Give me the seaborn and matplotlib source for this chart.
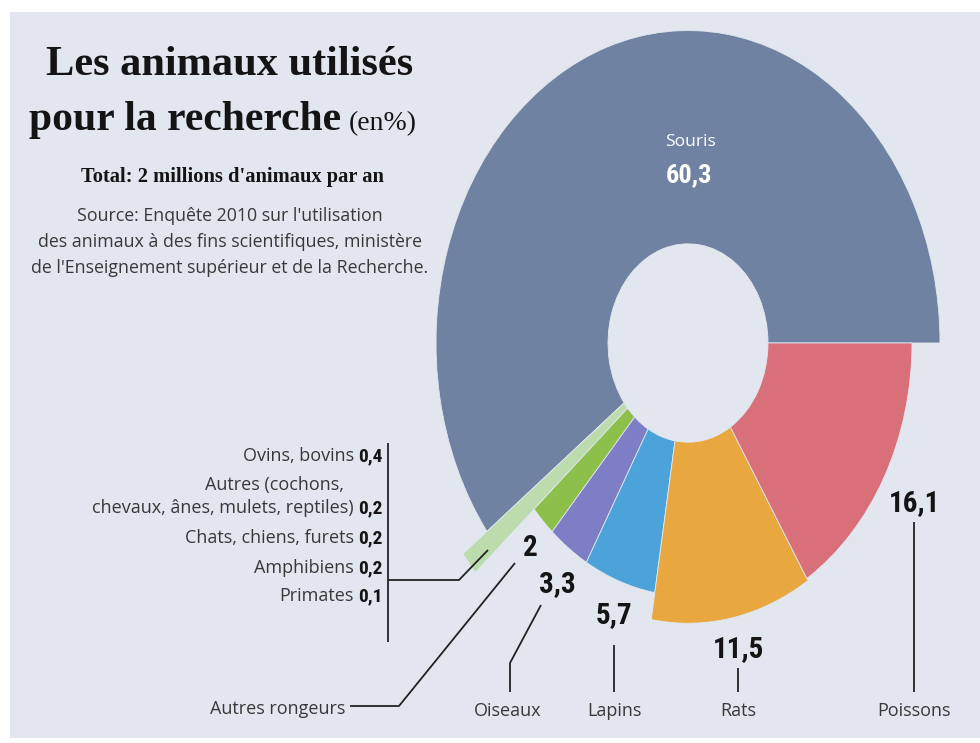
import numpy as np
import pandas as pd
import matplotlib
matplotlib.use("Agg")
import matplotlib.pyplot as plt
import seaborn as sns
from matplotlib.patches import Wedge, Rectangle
from matplotlib import font_manager as fm

# ---------------- data ----------------
categories = ["Souris", "Petits groupes", "Autres rongeurs", "Oiseaux", "Lapins", "Rats", "Poissons"]
values = [60.3, 1.1, 2, 3.3, 5.7, 11.5, 16.1]
small_labels = ["Ovins, bovins", "chevaux, ânes, mulets, reptiles)", "Chats, chiens, furets",
                "Amphibiens", "Primates"]
small_values = [0.4, 0.2, 0.2, 0.2, 0.1]

title_1 = "Les animaux utilisés"
title_2 = "pour la recherche"
title_unit = "(en%)"
subtitle = "Total: 2 millions d'animaux par an"
source_lines = ["Source: Enquête 2010 sur l'utilisation",
                "des animaux à des fins scientifiques, ministère",
                "de l'Enseignement supérieur et de la Recherche."]

# ---------------- styles ----------------
colors = ["#7082a1", "#bcdcad", "#8dbf4b", "#7e7ec6", "#4ba3d9", "#e8a73f", "#d96f79"]
outer_r = [252, 282, 204, 204, 204, 226, 224]
inner_r = 80
bg = "#e2e7ef"

def pick(cands, **kw):
    for c in cands:
        try:
            fm.findfont(fm.FontProperties(family=c, **kw), fallback_to_default=False)
            return c
        except Exception:
            pass
    return "DejaVu Sans"

SERIF = pick(["Liberation Serif", "DejaVu Serif"])
SANS = pick(["Open Sans", "Lato", "Noto Sans", "DejaVu Sans"])
NARROW = pick(["Liberation Sans Narrow", "Roboto Condensed", "Roboto", "DejaVu Sans"])

def fmt(v):
    return (str(int(v)) if float(v).is_integer() else f"{v:.1f}").replace(".", ",")

sns.set_theme(style="white")
plt.rcParams["font.family"] = [SANS, "DejaVu Sans"]

W, H = 980, 743
fig = plt.figure(figsize=(W / 100, H / 100), dpi=100, facecolor="white")

# background panel
ax_bg = fig.add_axes([0, 0, 1, 1], zorder=0)
ax_bg.set_xlim(0, W); ax_bg.set_ylim(H, 0); ax_bg.axis("off")
ax_bg.add_patch(Rectangle((10, 12), W - 10, 726, facecolor=bg, edgecolor="none"))

# donut axes: 1 unit = 1 px horizontally, 1.24 px vertically, centre at (688, 343)
cx, cy, sy = 688, 343, 1.24
half = 300
ax = fig.add_axes([(cx - half) / W, (H - cy - half * sy) / H, 2 * half / W, 2 * half * sy / H], zorder=1)
ax.set_xlim(-half, half); ax.set_ylim(-half, half)
ax.set_aspect("auto"); ax.axis("off"); ax.patch.set_alpha(0)

df = pd.DataFrame({"cat": categories, "val": values, "color": colors, "r": outer_r})
df["end"] = df["val"].cumsum() / df["val"].sum() * 360
df["start"] = df["end"] - df["val"] / df["val"].sum() * 360
for _, row in df.iterrows():
    ax.add_patch(Wedge((0, 0), row.r, row.start, row.end, width=row.r - inner_r,
                       facecolor=row.color, edgecolor=bg, linewidth=0.6))

# text overlay in pixel coordinates
t = fig.add_axes([0, 0, 1, 1], zorder=2)
t.set_xlim(0, W); t.set_ylim(H, 0); t.axis("off"); t.patch.set_alpha(0)

dark = "#141414"
grey = "#383838"
t.text(230, 75, title_1, family=SERIF, fontsize=30.5, weight="bold", color=dark, ha="center", va="baseline")
t.text(341, 130, title_2, family=SERIF, fontsize=30, weight="bold", color=dark, ha="right", va="baseline")
t.text(349, 130, title_unit, family=SERIF, fontsize=20, color=dark, ha="left", va="baseline")
t.text(232, 182, subtitle, family=SERIF, fontsize=14.8, weight="bold", color=dark, ha="center", va="baseline")
for i, line in enumerate(source_lines):
    t.text(230, 221 + 26 * i, line, fontsize=12.8, color=grey, ha="center", va="baseline")

# Souris label inside
t.text(690, 146, categories[0], fontsize=12.5, color="white", ha="center", va="baseline")
t.text(689, 182, fmt(values[0]), family=NARROW, fontsize=19, weight="bold", color="white",
       ha="center", va="baseline")

# small groups list
small_base = [461, 513, 543, 573, 601]
for lab, v, yb in zip(small_labels, small_values, small_base):
    t.text(354, yb, lab, fontsize=13, color=grey, ha="right", va="baseline")
    t.text(358, yb, fmt(v), family=NARROW, fontsize=14, weight="bold", color=dark, ha="left", va="baseline")
t.text(344, 490, "Autres (cochons,", fontsize=13, color=grey, ha="right", va="baseline")

# big numbers
num_pos = {2: (530, 556), 3: (557, 592), 4: (614, 623), 5: (738, 657), 6: (914, 511)}
for i, (x, yb) in num_pos.items():
    t.text(x, yb, fmt(values[i]), family=NARROW, fontsize=21, weight="bold", color=dark,
           ha="center", va="baseline")

# bottom names
t.text(345, 714, categories[2], fontsize=13, color=grey, ha="right", va="baseline")
for i, x in zip([3, 4, 5, 6], [508, 614, 738, 914]):
    t.text(x, 716, categories[i], fontsize=13, color=grey, ha="center", va="baseline")

# leader lines
lk = dict(color="#222222", lw=1.3, solid_capstyle="butt")
t.plot([914, 914], [522, 692], **lk)
t.plot([738, 738], [668, 692], **lk)
t.plot([614, 614], [645, 692], **lk)
t.plot([541, 510, 510], [605, 663, 692], **lk)
t.plot([515, 399, 350], [563, 706, 706], **lk)
t.plot([388, 388], [443, 642], **lk)
t.plot([388, 459, 488], [580, 580, 550], **lk)

fig.savefig("out.png", dpi=100, facecolor="white")
